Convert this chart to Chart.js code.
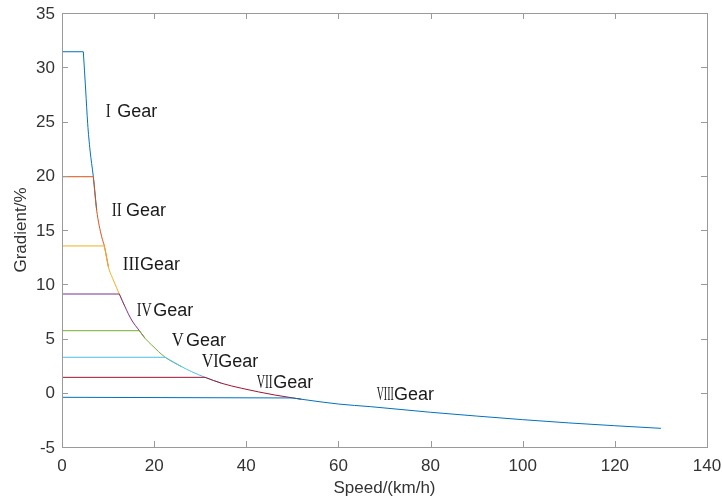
<!DOCTYPE html>
<html>
<head>
<meta charset="utf-8">
<script src="https://cdn.jsdelivr.net/npm/chart.js@4.4.1/dist/chart.umd.min.js"></script>
<style>
    html, body { margin: 0; padding: 0; background: #fff; }
</style>
</head>
<body>
<canvas id="gearChart" width="722" height="499"></canvas>
<script>
// Speed (km/h) and gradient (%), one pair of arrays per gear.
// The first two points are the flat part, the rest is the falling curve
// (each curve runs a little into the next gear, where it is hidden underneath).
const speedI    = [0, 4.63, 5.14, 5.57, 6.08, 6.8, 7.52];
const gradeI    = [31.43, 31.43, 27.9, 24.83, 22.37, 19.91, 16.84];
const speedII   = [0, 6.8, 7.52, 8.61, 9.19, 10.06];
const gradeII   = [19.91, 19.91, 16.84, 14.38, 13.53, 11.62];
const speedIII  = [0, 9.19, 10.06, 11.14, 12.44, 13.67];
const gradeIII  = [13.53, 13.53, 11.62, 10.39, 9.1, 7.93];
const speedIV   = [0, 12.44, 13.67, 15.12, 16.79, 18.02];
const gradeIV   = [9.1, 9.1, 7.93, 6.7, 5.72, 5.02];
const speedV    = [0, 16.79, 18.02, 19.47, 22.4, 25.98];
const gradeV    = [5.72, 5.72, 5.02, 4.4, 3.27, 2.4];
const speedVI   = [0, 22.4, 25.98, 28.15, 31.04, 34.66];
const gradeVI   = [3.27, 3.27, 2.4, 1.94, 1.42, 0.87];
const speedVII  = [0, 31.04, 34.66, 39.0, 46.2, 50, 52];
const gradeVII  = [1.42, 1.42, 0.87, 0.41, -0.21, -0.47, -0.6];
const speedVIII = [0, 50, 52, 60, 66.9, 80, 90, 100, 110, 120, 130];
const gradeVIII = [-0.42, -0.48, -0.6, -1.04, -1.28, -1.8, -2.15, -2.48, -2.78, -3.04, -3.28];

const gearNames = ['I', 'II', 'III', 'IV', 'V', 'VI', 'VII', 'VIII'];
// where each "N Gear" label sits (left edge / baseline, in data units)
const labelSpeed = [9.49, 10.79, 13.18, 16.21, 23.81, 30.32, 42.26, 68.31];
const labelGrade = [25.39, 16.29, 11.31, 7.1, 4.34, 2.35, 0.47, -0.67];

const xTicks = { min: 0, max: 140, step: 20 };
const yTicks = { min: -5, max: 35, step: 5 };

const gearColors = ['#0072BD', '#D95319', '#EDB120', '#7E2F8E', '#77AC30', '#4DBEEE', '#A2142F', '#0072BD'];
// drawn width of the roman numeral and the room it takes before "Gear"
const numeralWidth = [5, 10, 17, 15, 12, 17, 16, 17];
const numeralBox = [11.6, 14.3, 17.3, 16.6, 14.3, 16.6, 16.6, 17.3];

const speeds = [speedI, speedII, speedIII, speedIV, speedV, speedVI, speedVII, speedVIII];
const grades = [gradeI, gradeII, gradeIII, gradeIV, gradeV, gradeVI, gradeVII, gradeVIII];

const datasets = [];
speeds.forEach((xs, i) => {
    const pts = xs.map((x, j) => ({ x: x, y: grades[i][j] }));
    const common = {
        borderColor: gearColors[i],
        backgroundColor: 'transparent',
        borderWidth: 1,
        pointRadius: 0,
        order: speeds.length - i   // higher gears drawn on top
    };
    // flat part: straight line
    datasets.push(Object.assign({ label: gearNames[i] + ' Gear', data: pts.slice(0, 2), tension: 0 }, common));
    // curve part: smooth
    datasets.push(Object.assign({ label: gearNames[i] + ' Gear curve', data: pts.slice(1), cubicInterpolationMode: 'monotone' }, common));
});

const axisColor = '#9a9a9a';
const textColor = '#333';
const tickLen = 6;
const fontFamily = '"Liberation Sans", Arial, sans-serif';

// MATLAB style box with inward ticks on all four sides, plus tick labels
const boxPlugin = {
    id: 'box',
    afterDraw(chart) {
        const { ctx, chartArea: a, scales: { x, y } } = chart;
        ctx.save();
        ctx.strokeStyle = axisColor;
        ctx.lineWidth = 1;
        ctx.strokeRect(Math.round(a.left) + 0.5, Math.round(a.top) + 0.5,
            Math.round(a.right - a.left), Math.round(a.bottom - a.top));
        ctx.beginPath();
        x.ticks.forEach(t => {
            const px = Math.round(x.getPixelForValue(t.value)) + 0.5;
            ctx.moveTo(px, a.bottom); ctx.lineTo(px, a.bottom - tickLen);
            ctx.moveTo(px, a.top); ctx.lineTo(px, a.top + tickLen);
        });
        y.ticks.forEach(t => {
            const py = Math.round(y.getPixelForValue(t.value)) + 0.5;
            ctx.moveTo(a.left, py); ctx.lineTo(a.left + tickLen, py);
            ctx.moveTo(a.right, py); ctx.lineTo(a.right - tickLen, py);
        });
        ctx.stroke();

        ctx.fillStyle = textColor;
        ctx.font = '17px ' + fontFamily;
        ctx.textAlign = 'center';
        ctx.textBaseline = 'middle';
        x.ticks.forEach(t => {
            ctx.fillText(String(t.value), x.getPixelForValue(t.value), a.bottom + 19);
        });
        ctx.textAlign = 'right';
        y.ticks.forEach(t => {
            ctx.fillText(String(t.value), a.left - 7, y.getPixelForValue(t.value) + 1);
        });
        ctx.restore();
    }
};

const gearLabelPlugin = {
    id: 'gearLabels',
    afterDatasetsDraw(chart) {
        const { ctx, scales: { x, y } } = chart;
        ctx.save();
        ctx.fillStyle = '#1a1a1a';
        ctx.textBaseline = 'alphabetic';
        ctx.textAlign = 'left';
        gearNames.forEach((name, i) => {
            const px = x.getPixelForValue(labelSpeed[i]);
            const py = y.getPixelForValue(labelGrade[i]);
            ctx.font = '19px "Liberation Serif"';
            const w = ctx.measureText(name).width;
            const s = Math.min(1, numeralWidth[i] / w);
            ctx.save();
            ctx.translate(px, py);
            ctx.scale(s, 1);
            ctx.fillText(name, 0, 0);
            ctx.restore();
            ctx.font = '18px "Liberation Sans"';
            ctx.fillText('Gear', px + numeralBox[i], py);
        });
        ctx.restore();
    }
};

const titleFont = { family: fontFamily, size: 17 };

new Chart(document.getElementById('gearChart'), {
    type: 'line',
    data: { datasets },
    options: {
        responsive: false,
        animation: false,
        layout: { padding: { left: 0, top: 13, right: 15, bottom: 0 } },
        plugins: { legend: { display: false }, tooltip: { enabled: false } },
        scales: {
            x: {
                type: 'linear',
                min: xTicks.min, max: xTicks.max,
                grid: { display: false, drawTicks: false },
                border: { display: false },
                ticks: { display: false, stepSize: xTicks.step },
                title: { display: true, text: 'Speed/(km/h)', color: textColor, font: titleFont, padding: { top: 0, bottom: 0 } },
                afterFit(scale) { scale.height = 52; }
            },
            y: {
                type: 'linear',
                min: yTicks.min, max: yTicks.max,
                grid: { display: false, drawTicks: false },
                border: { display: false },
                ticks: { display: false, stepSize: yTicks.step },
                title: { display: true, text: 'Gradient/%', color: textColor, font: titleFont, padding: { top: 11, bottom: 0 } },
                afterFit(scale) { scale.width = 62; }
            }
        }
    },
    plugins: [boxPlugin, gearLabelPlugin]
});
</script>
</body>
</html>
